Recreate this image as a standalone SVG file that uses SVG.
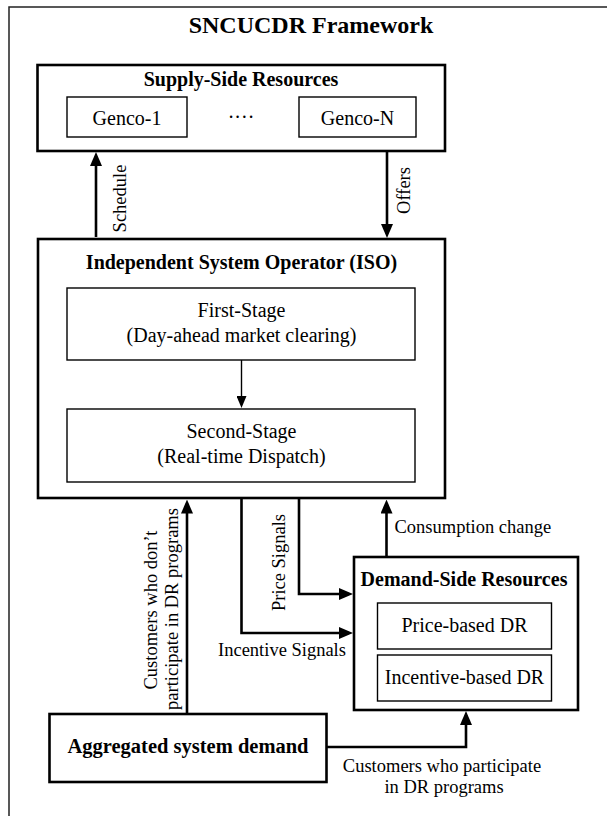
<svg xmlns="http://www.w3.org/2000/svg" width="607" height="816" viewBox="0 0 607 816">
<style>
text{font-family:"Liberation Serif","Times New Roman",serif;fill:#000}
.t{font-size:24px;font-weight:bold;text-anchor:middle}
.h{font-size:20px;font-weight:bold;text-anchor:middle}
.n{font-size:20px;text-anchor:middle}
.l{font-size:18.5px}
.c{text-anchor:middle}
.box{fill:#fff;stroke:#000;stroke-width:2.6}
.ibox{fill:#fff;stroke:#000;stroke-width:1.4}
.w{fill:none;stroke:#000;stroke-width:2.6}
.wt{fill:none;stroke:#000;stroke-width:1.4}
</style>
<defs>
<marker id="ah" markerUnits="userSpaceOnUse" markerWidth="14" markerHeight="12" refX="10" refY="6" orient="auto"><path d="M0,0 L14,6 L0,12 z" fill="#000"/></marker>
<marker id="at" markerUnits="userSpaceOnUse" markerWidth="12" markerHeight="10" refX="9" refY="5" orient="auto"><path d="M0,0 L12,5 L0,10 z" fill="#000"/></marker>
</defs>
<rect x="9" y="7" width="640" height="840" fill="#fff" stroke="#222" stroke-width="1.5"/>
<text class="t" x="311" y="33">SNCUCDR Framework</text>
<g id="supply">
<rect class="box" x="37.5" y="65" width="407.5" height="86"/>
<text class="h" x="241" y="86">Supply-Side Resources</text>
</g>
<g id="genco1">
<rect class="ibox" x="67" y="97" width="120" height="40"/>
<text class="n" x="127" y="125">Genco-1</text>
</g>
<text class="n" x="241" y="124">····</text>
<g id="gencoN">
<rect class="ibox" x="299" y="97" width="117" height="40"/>
<text class="n" x="357.5" y="125">Genco-N</text>
</g>
<g id="iso">
<rect class="box" x="38" y="239" width="407" height="259"/>
<text class="h" x="241.5" y="269">Independent System Operator (ISO)</text>
</g>
<g id="stage1">
<rect class="ibox" x="67" y="288" width="348" height="72"/>
<text class="n" x="241.5" y="317">First-Stage</text>
<text class="n" x="241.5" y="342">(Day-ahead market clearing)</text>
</g>
<g id="stage2">
<rect class="ibox" x="67" y="409" width="348" height="73"/>
<text class="n" x="241.5" y="438">Second-Stage</text>
<text class="n" x="241.5" y="463">(Real-time Dispatch)</text>
</g>
<g id="demand">
<rect class="box" x="354" y="557" width="224" height="153"/>
<text class="h" x="464" y="586">Demand-Side Resources</text>
</g>
<g id="pricedr">
<rect class="ibox" x="377.5" y="603" width="174" height="46"/>
<text class="n" x="464.5" y="632">Price-based DR</text>
</g>
<g id="incentivedr">
<rect class="ibox" x="377.5" y="655" width="174" height="46"/>
<text class="n" x="464.5" y="684">Incentive-based DR</text>
</g>
<g id="aggregated">
<rect class="box" x="49.5" y="714" width="277" height="68"/>
<text class="h" x="188" y="753" style="font-size:20.5px">Aggregated system demand</text>
</g>
<g id="connectors">
<path class="w" d="M96,237 V156" marker-end="url(#ah)"/>
<path class="w" d="M387,151 V234" marker-end="url(#ah)"/>
<path class="wt" d="M241.5,360 V405" marker-end="url(#at)"/>
<path class="w" d="M187,714 V503.5" marker-end="url(#ah)"/>
<path class="w" d="M299,498 V594 H349" marker-end="url(#ah)"/>
<path class="w" d="M241.5,498 V633 H349" marker-end="url(#ah)"/>
<path class="w" d="M386.5,557 V503.5" marker-end="url(#ah)"/>
<path class="w" d="M326.5,747 H466 V715" marker-end="url(#ah)"/>
<text class="l c" transform="translate(125.5,198.5) rotate(-90)">Schedule</text>
<text class="l c" transform="translate(410,190.5) rotate(-90)">Offers</text>
<text class="l c" transform="translate(157,610) rotate(-90)">Customers who don’t</text>
<text class="l c" transform="translate(178,609) rotate(-90)">participate in DR programs</text>
<text class="l c" transform="translate(285,562.5) rotate(-90)">Price Signals</text>
<text class="l c" x="282" y="656">Incentive Signals</text>
<text class="l" x="394.5" y="533">Consumption change</text>
<text class="l c" x="442" y="772">Customers who participate</text>
<text class="l c" x="444" y="793">in DR programs</text>
</g>
</svg>
